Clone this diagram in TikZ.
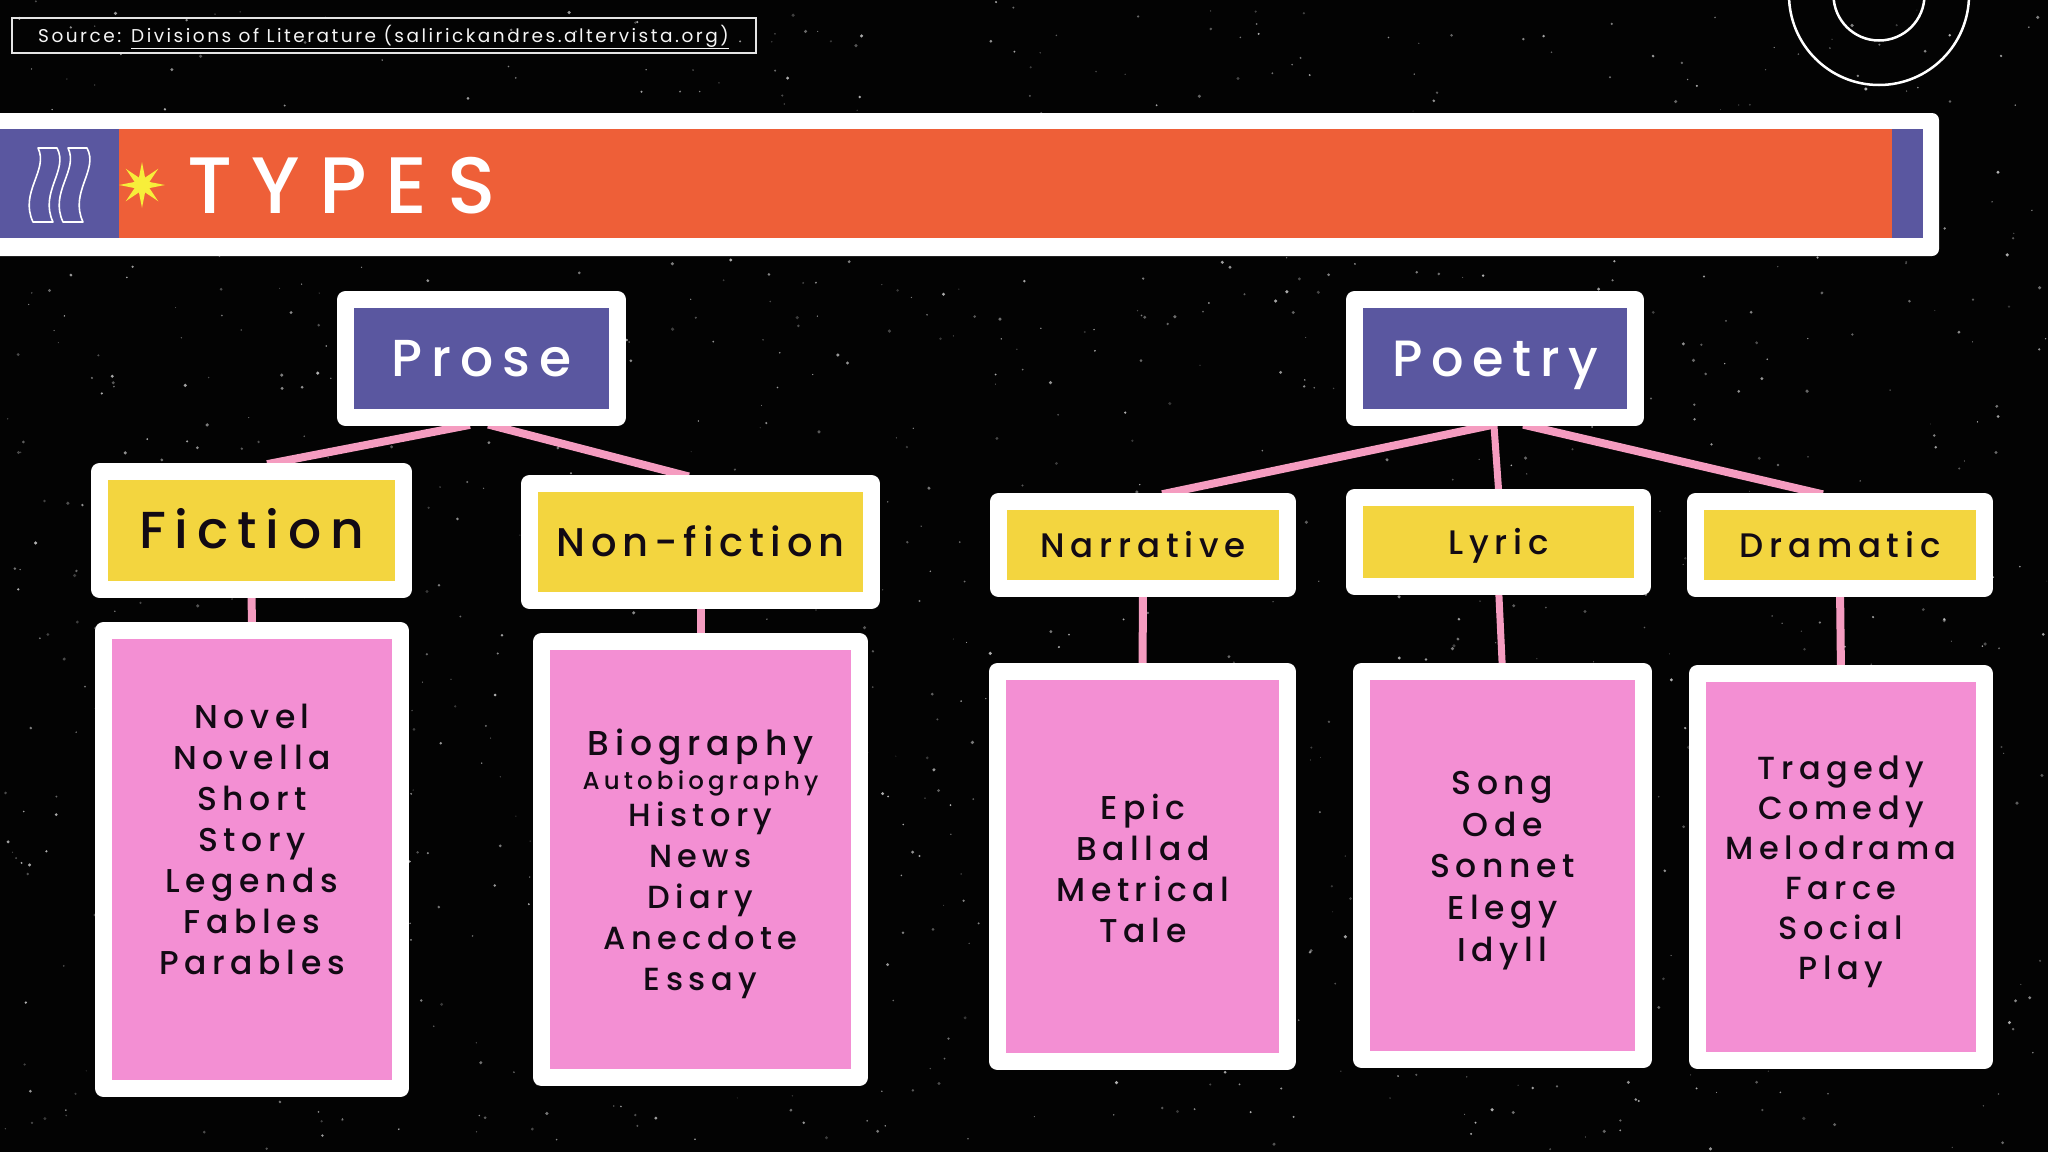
\documentclass[tikz,border=0pt]{standalone}
\usepackage{fontspec}
\setmainfont{Poppins}
\newfontfamily\pop[LetterSpace=17]{Poppins Medium}
\newfontfamily\popnf[LetterSpace=15]{Poppins Medium}
\newfontfamily\poptitle[LetterSpace=24]{Poppins Medium}
\newfontfamily\popsrc[LetterSpace=13.5]{Poppins}
\usetikzlibrary{calc}
\definecolor{bgblack}{HTML}{030303}
\definecolor{hdrblue}{HTML}{5A57A0}
\definecolor{bannerorange}{HTML}{EE5F38}
\definecolor{hdryellow}{HTML}{F3D53F}
\definecolor{listpink}{HTML}{F38FD3}
\definecolor{connpink}{HTML}{F59CC0}
\definecolor{txtdark}{HTML}{120A14}
\definecolor{staryellow}{HTML}{F7EE3A}
\pgfdeclarelayer{bg}
\pgfdeclarelayer{conn}
\pgfsetlayers{bg,conn,main}
\begin{document}
\begin{tikzpicture}[x=1pt,y=-1pt,
  wbox/.style={draw=white, line width=17pt, line join=round, inner sep=0pt, outer sep=0pt},
  lvlA/.style={wbox, fill=hdrblue, text=white},
  lvlB/.style={wbox, fill=hdryellow, text=txtdark},
  lvlC/.style={wbox, fill=listpink},
  connector/.style={draw=connpink, line width=8pt, shorten <=-6pt, shorten >=-6pt},
  listtxt/.style={text=txtdark, align=center, inner sep=0pt, anchor=north}]
\useasboundingbox (0,0) rectangle (2048,1152);
\begin{pgfonlayer}{bg}
\fill[bgblack] (0,0) rectangle (2048,1152);
\pgfmathsetseed{12}
\foreach \i in {1,...,1300}{
  \pgfmathsetmacro\px{rnd*2048}
  \pgfmathsetmacro\py{rnd*1152}
  \pgfmathsetmacro\pr{0.5+rnd*1.3}
  \pgfmathsetmacro\po{0.2+rnd*0.5}
  \fill[white, opacity=\po] (\px,\py) circle[radius=\pr pt];
}
\end{pgfonlayer}

% source box
\node[draw=white!80!gray, line width=1.5pt, minimum width=744pt, minimum height=35pt, inner sep=0pt] (srcbox) at (384,35.5) {};
\node[anchor=base west, inner sep=0pt, text=white!92!gray, font=\fontsize{18.5}{20}\popsrc] (srctxt) at (38,42) {Source: \underline{Divisions of Literature (salirickandres.altervista.org)}};

% circles
\draw[white, line width=2.5pt] (1879,-5) circle[radius=90pt];
\draw[white, line width=2.5pt] (1879,-5) circle[radius=45.5pt];

% banner
\fill[white, rounded corners=7pt] (-30,113) rectangle (1939,256);
\fill[hdrblue] (-5,129) rectangle (1923,238);
\fill[bannerorange] (119,129) rectangle (1892,238);
\foreach \dx in {3,33}{
  \draw[white, line width=1.6pt, line join=round, xshift=\dx pt]
    (35,148) -- (54,148) .. controls (66,170) and (36,192) .. (50,222)
    -- (30,222) .. controls (16,192) and (46,170) .. (35,148) -- cycle;
}
\fill[staryellow] plot[samples at={0,1,...,15}, variable=\k]
  ({142+(23-15*mod(\k,2))*cos(\k*22.5+90)},{185+(23-15*mod(\k,2))*sin(\k*22.5+90)}) -- cycle;
\node[anchor=base west, text=white, font=\fontsize{80}{90}\poptitle, inner sep=0pt] (title) at (187,213) {TYPES};

% level A
\node[lvlA, minimum width=272pt, minimum height=118pt, font=\fontsize{52}{60}\pop, text height=36.5pt, text depth=0pt] (prose) at (481.5,358.5) {Prose};
\node[lvlA, minimum width=281pt, minimum height=118pt, font=\fontsize{51}{60}\pop, text height=35.5pt, text depth=0pt] (poetry) at (1495,358.5) {Poetry};

% level B
\node[lvlB, minimum width=304pt, minimum height=118pt, font=\fontsize{52}{60}\pop, text height=36.5pt, text depth=0pt] (fiction) at (251.5,530.5) {Fiction};
\node[lvlB, minimum width=342pt, minimum height=117pt, font=\fontsize{40}{50}\popnf, text height=28pt, text depth=0pt] (nonfiction) at (700.5,542) {Non-fiction};
\node[lvlB, minimum width=289pt, minimum height=87pt, font=\fontsize{34}{40}\pop, text height=24pt, text depth=0pt] (narrative) at (1143,545) {Narrative};
\node[lvlB, minimum width=288pt, minimum height=89pt, font=\fontsize{34}{40}\pop, text height=24pt, text depth=0pt] (lyric) at (1498.5,542) {Lyric};
\node[lvlB, minimum width=289pt, minimum height=87pt, font=\fontsize{34}{40}\pop, text height=24pt, text depth=0pt] (dramatic) at (1840,545) {Dramatic};

% level C boxes
\node[lvlC, minimum width=297pt, minimum height=458pt] (fictionL) at (252,859.5) {};
\node[lvlC, minimum width=318pt, minimum height=436pt] (nonfictionL) at (700.5,859.5) {};
\node[lvlC, minimum width=290pt, minimum height=390pt] (narrativeL) at (1142.5,866.5) {};
\node[lvlC, minimum width=282pt, minimum height=388pt] (lyricL) at (1502.5,865.5) {};
\node[lvlC, minimum width=287pt, minimum height=387pt] (dramaticL) at (1841,867) {};

% list texts
\node[listtxt, font=\fontsize{33}{41}\pop] (fictionT) at (252,704) {Novel\\Novella\\Short\\Story\\Legends\\Fables\\Parables};
\node[listtxt, font=\fontsize{32}{41}\pop] (nonfictionT) at (700.5,729) {{\fontsize{34.5}{41}\selectfont Biography}\\[-7pt]{\fontsize{24.5}{41}\selectfont Autobiography}\\[-4pt]History\\News\\Diary\\Anecdote\\Essay};
\node[listtxt, font=\fontsize{33}{41}\pop] (narrativeT) at (1143,794) {Epic\\Ballad\\Metrical\\Tale};
\node[listtxt, font=\fontsize{33}{41.7}\pop] (lyricT) at (1502.5,771) {Song\\Ode\\Sonnet\\Elegy\\Idyll};
\node[listtxt, font=\fontsize{32}{40}\pop] (dramaticT) at (1841,756) {Tragedy\\Comedy\\Melodrama\\Farce\\Social\\Play};

% connectors
\begin{pgfonlayer}{conn}
\draw[connector] ([xshift=-17.5pt, yshift=-8.5pt]prose.south) -- ([xshift=21.5pt, yshift=8.5pt]fiction.north);
\draw[connector] ([xshift=12.5pt, yshift=-8.5pt]prose.south) -- ([xshift=-17.5pt, yshift=8.5pt]nonfiction.north);
\draw[connector] ([xshift=-8pt, yshift=-8.5pt]poetry.south) -- ([xshift=25pt, yshift=8.5pt]narrative.north);
\draw[connector, line width=7pt] ([xshift=-1pt, yshift=-8.5pt]poetry.south) -- ([yshift=8.5pt]lyric.north);
\draw[connector] ([xshift=34pt, yshift=-8.5pt]poetry.south) -- ([xshift=-23pt, yshift=8.5pt]dramatic.north);
\draw[connector] (fiction.south) -- (fictionL.north);
\draw[connector] (nonfiction.south) -- (nonfictionL.north);
\draw[connector] (narrative.south) -- (narrativeL.north);
\draw[connector, line width=7pt] (lyric.south) -- (lyricL.north);
\draw[connector] (dramatic.south) -- (dramaticL.north);
\end{pgfonlayer}
\end{tikzpicture}
\end{document}
